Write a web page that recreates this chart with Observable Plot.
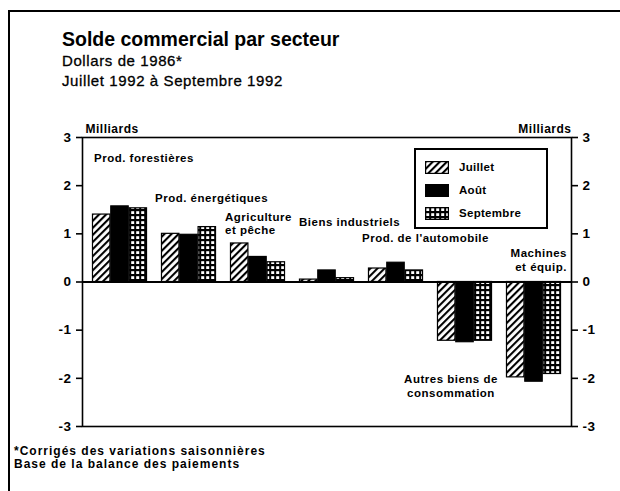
<!DOCTYPE html>
<html><head><meta charset="utf-8">
<script src="https://cdn.jsdelivr.net/npm/d3@7"></script>
<script src="https://cdn.jsdelivr.net/npm/@observablehq/plot@0.6"></script>
<style>
body{margin:0;background:#fff;}
#page{position:relative;width:620px;height:491px;overflow:hidden;font-family:"Liberation Sans",Arial,sans-serif;color:#000;background:#fff;}
#border{position:absolute;left:8px;top:10px;width:700px;height:600px;border-left:2px solid #000;border-top:2px solid #000;}
#title{position:absolute;left:62px;top:29px;font-size:19.5px;font-weight:bold;line-height:20px;white-space:nowrap;}
#sub{position:absolute;left:62px;top:51px;font-size:15px;line-height:20px;white-space:nowrap;letter-spacing:0.6px;-webkit-text-stroke:0.3px #000;}
#chart{position:absolute;left:0;top:100px;}
#foot{position:absolute;left:14px;top:445px;font-size:12px;font-weight:bold;line-height:13px;letter-spacing:1px;white-space:nowrap;}
#legend{position:absolute;left:414px;top:148px;width:130px;height:77px;border:2px solid #000;background:#fff;box-sizing:content-box;}
#legend .row{position:absolute;left:9px;height:14px;display:flex;align-items:center;font-size:11.5px;font-weight:bold;letter-spacing:0.3px;}
#legend .row span{margin-left:10px;}
</style></head>
<body><div id="page">
<svg width="0" height="0" style="position:absolute">
  <defs>
    <pattern id="hatch" patternUnits="userSpaceOnUse" width="5" height="5" patternTransform="rotate(45)">
      <rect width="5" height="5" fill="#fff"/>
      <line x1="1" y1="0" x2="1" y2="5" stroke="#000" stroke-width="2.2"/>
    </pattern>
    <pattern id="grid" patternUnits="userSpaceOnUse" width="5" height="5">
      <rect width="5" height="5" fill="#000"/>
      <rect x="1.2" y="1.2" width="3" height="2.8" fill="#fff"/>
    </pattern>
  </defs>
</svg>
<div id="border"></div>
<div id="title">Solde commercial par secteur</div>
<div id="sub">Dollars de 1986*<br>Juillet 1992 à Septembre 1992</div>
<div id="chart"></div>
<div id="legend"></div>
<div id="foot">*Corrigés des variations saisonnières<br>Base de la balance des paiements</div>
</div>
<script>
// ---- data ----
const categories = ["Prod. forestières", "Prod. énergétiques", "Agriculture et pêche", "Biens industriels", "Prod. de l'automobile", "Autres biens de consommation", "Machines et équip."];
const categoryLabels = ["Prod. forestières", "Prod. énergétiques", "Agriculture\net pêche", "Biens industriels", "Prod. de l'automobile", "Autres biens de\nconsommation", "Machines\net équip."];
const months = ["Juillet", "Août", "Septembre"];
const juillet = [1.40, 1.00, 0.80, 0.05, 0.28, -1.22, -1.98];
const aout = [1.57, 0.98, 0.52, 0.24, 0.40, -1.25, -2.07];
const septembre = [1.53, 1.14, 0.41, 0.08, 0.24, -1.22, -1.91];
const yTicks = [-3, -2, -1, 0, 1, 2, 3];
const unitLabel = "Milliards";

// ---- build ----
const series = [juillet, aout, septembre];
const fills = ["url(#hatch)", "#000", "url(#grid)"];
const rows = [];
categories.forEach((c, i) => months.forEach((m, j) => rows.push({category: c, month: m, value: series[j][i]})));

const W = 620, H = 340, ML = 82, MR = 49, MT = 37, MB = 14;
const bw = (W - ML - MR) / categories.length;
const barW = 18.3, pad = (bw - 3 * barW) / 2;

// label placement (offsets from band centre, y in data units)
const labelLayout = [
  {anchor: "start", dx: -26, y: 2.585},
  {anchor: "start", dx: -34, y: 1.754},
  {anchor: "start", dx: -33, y: 1.225},
  {anchor: "start", dx: -28, y: 1.256},
  {anchor: "start", dx: -34, y: 0.913},
  {anchor: "middle", dx: -14, y: -2.149},
  {anchor: "end", dx: 33, y: 0.467}
];

const font = "Liberation Sans, Arial, sans-serif";
const marks = [];
months.forEach((m, j) => {
  marks.push(Plot.barY(rows.filter(d => d.month === m), {
    x: "category", y: "value", fill: fills[j], stroke: "#000", strokeWidth: 1.2,
    insetLeft: pad + j * barW, insetRight: bw - pad - (j + 1) * barW
  }));
});
marks.push(Plot.ruleY([0], {strokeWidth: 2}));
marks.push(Plot.frame({strokeWidth: 1.6}));
marks.push(Plot.axisY(yTicks, {anchor: "left", tickSize: 6, tickPadding: 5, tickFormat: d => String(d), fontSize: 13.5, strokeWidth: 1.6, label: null}));
marks.push(Plot.axisY(yTicks, {anchor: "right", tickSize: 6, tickPadding: 5, tickFormat: d => String(d), fontSize: 13.5, strokeWidth: 1.6, label: null}));
marks.push(Plot.text([unitLabel], {frameAnchor: "top-left", textAnchor: "start", dx: 3, dy: -13, fontSize: 12}));
marks.push(Plot.text([unitLabel], {frameAnchor: "top-right", textAnchor: "end", dy: -13, fontSize: 12}));
categories.forEach((c, i) => {
  const L = labelLayout[i];
  marks.push(Plot.text([{category: c, y: L.y, text: categoryLabels[i]}], {
    x: "category", y: "y", text: "text", textAnchor: L.anchor, dx: L.dx,
    fontSize: 11.5, lineHeight: 1.18, fill: "#000"
  }));
});

const chart = Plot.plot({
  width: W, height: H, marginTop: MT, marginBottom: MB, marginLeft: ML, marginRight: MR,
  x: {type: "band", domain: categories, padding: 0, axis: null},
  y: {domain: [-3, 3], axis: null},
  style: {fontFamily: font, fontWeight: "bold", fontSize: "13px", color: "#000", background: "transparent", overflow: "visible", letterSpacing: "0.5px"},
  marks
});
document.getElementById("chart").appendChild(chart);

// legend
const legend = document.getElementById("legend");
months.forEach((m, j) => {
  const row = document.createElement("div");
  row.className = "row";
  row.style.top = (10 + j * 23) + "px";
  row.innerHTML = `<svg width="24" height="13"><rect x="0.6" y="0.6" width="22.8" height="11.8" fill="${fills[j]}" stroke="#000" stroke-width="1.2"/></svg><span>${m}</span>`;
  legend.appendChild(row);
});
</script>
</body></html>
